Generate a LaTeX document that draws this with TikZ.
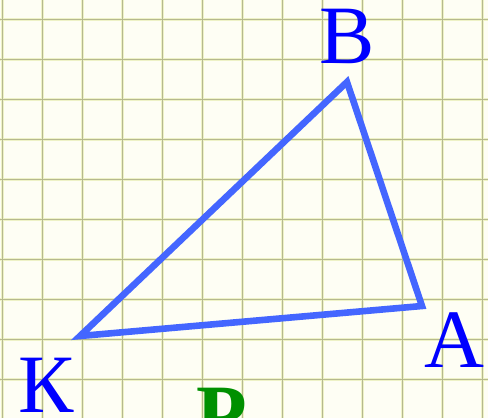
\documentclass[tikz,border=0pt]{standalone}
\usepackage{fontspec}
\setmainfont{Liberation Serif}
\definecolor{paper}{HTML}{FEFEF4}
\definecolor{gridhalo}{HTML}{EEF2C6}
\definecolor{gridline}{HTML}{B6B98E}
\definecolor{tri}{HTML}{4466FF}
\definecolor{lbl}{HTML}{0000FF}
\definecolor{grn}{HTML}{009000}
\begin{document}
\begin{tikzpicture}[x=1pt,y=-1pt,
  lab/.style={text=lbl,font=\fontsize{83}{83}\selectfont,inner sep=0pt},
  side/.style={draw=tri,line width=6.6pt,line join=miter}]
\useasboundingbox (0,0) rectangle (488,418);
\fill[paper] (0,0) rectangle (488,418);
\foreach \i in {0,...,12} {
  \draw[gridhalo,line width=3pt] ({2.7+40*\i},0) -- ({2.7+40*\i},418);
}
\foreach \j in {0,...,10} {
  \draw[gridhalo,line width=3pt] (0,{19.3+40*\j}) -- (488,{19.3+40*\j});
}
\foreach \i in {0,...,12} {
  \draw[gridline,line width=1.3pt] ({2.7+40*\i},0) -- ({2.7+40*\i},418);
}
\foreach \j in {0,...,10} {
  \draw[gridline,line width=1.3pt] (0,{19.3+40*\j}) -- (488,{19.3+40*\j});
}
\coordinate (K) at (80,336);
\coordinate (B) at (347,82);
\coordinate (A) at (422,306);
\draw[side] (K) -- (B) -- (A) -- cycle;
\node[lab,anchor=base] (lB) at (347,63) {B};
\node[lab,anchor=base] (lK) at (46,412) {К};
\node[lab,anchor=base] (lA) at (454,367) {A};
\node[text=grn,font=\fontsize{83}{83}\selectfont\bfseries,inner sep=0pt,anchor=base] (lP) at (222,442) {Р};
\end{tikzpicture}
\end{document}
